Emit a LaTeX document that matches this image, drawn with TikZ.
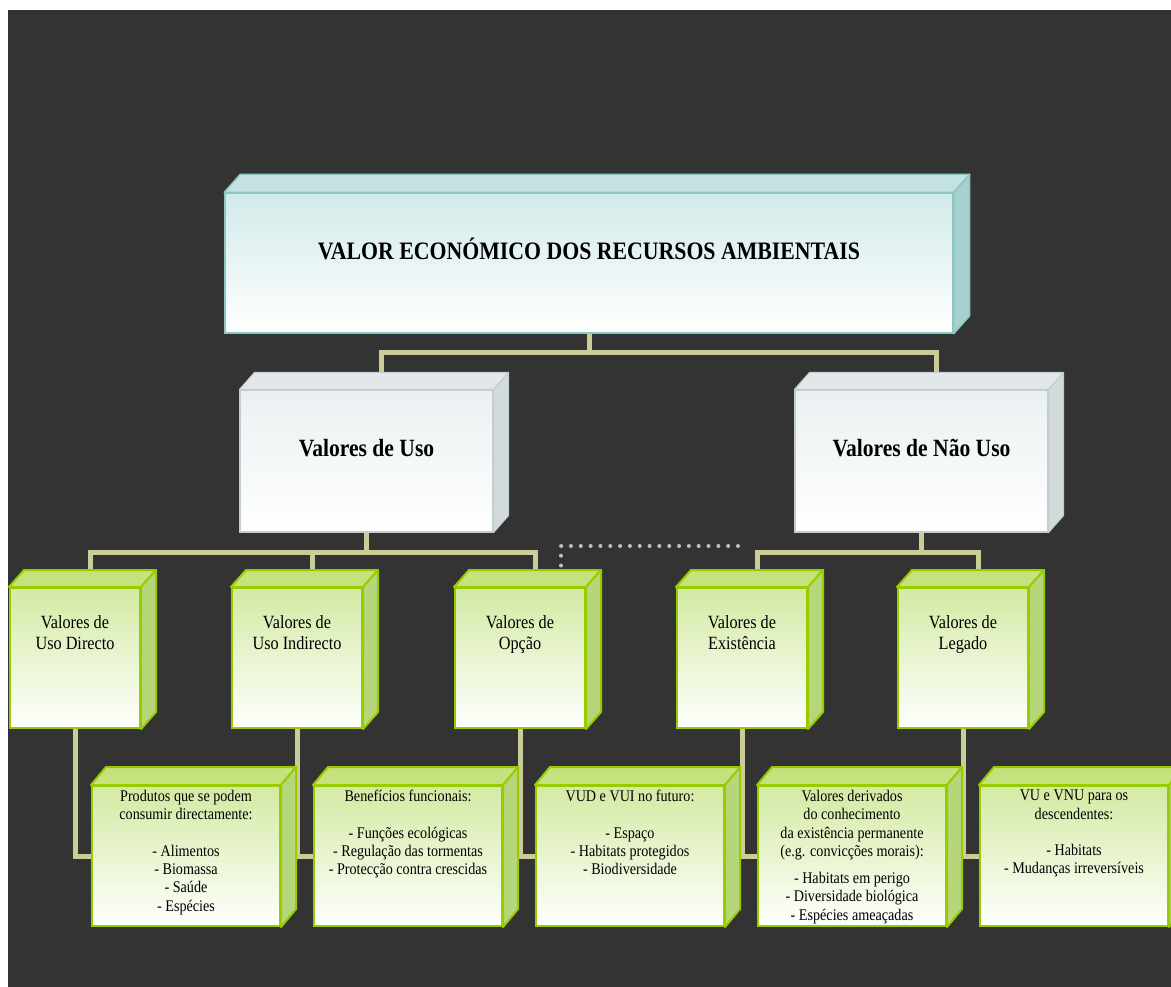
\documentclass[tikz,border=0pt]{standalone}
\usepackage{fontspec}
\setmainfont{Liberation Serif}[FakeStretch=0.87]
\usetikzlibrary{calc}
\pgfdeclarelayer{bg}
\pgfsetlayers{bg,main}
\definecolor{bgc}{HTML}{333333}
\definecolor{beige}{HTML}{CCCC99}
\definecolor{gborder}{HTML}{99CC00}
\definecolor{gtopc}{HTML}{C5E27C}
\definecolor{gsidec}{HTML}{B5D77A}
\definecolor{gfront}{HTML}{D3EAA2}
\definecolor{tborder}{HTML}{8CC7C5}
\definecolor{ttopc}{HTML}{C3E2E1}
\definecolor{tsidec}{HTML}{A6D1CF}
\definecolor{tfront}{HTML}{D2EAEA}
\definecolor{nborder}{HTML}{C3CDD0}
\definecolor{ntopc}{HTML}{E2E8EA}
\definecolor{nsidec}{HTML}{D2DADC}
\definecolor{nfront}{HTML}{EAF0F1}
\definecolor{dotc}{HTML}{BFBFBF}
\newcommand\cubefaces[4]{%
  \path[#4top] (#1.north west) -- ++(#2,#3) -- ($(#1.north east)+(#2,#3)$) -- (#1.north east) -- cycle;
  \path[#4side] (#1.north east) -- ++(#2,#3) -- ($(#1.south east)+(#2,#3)$) -- (#1.south east) -- cycle;
}
\tikzset{
  sz/.style 2 args={minimum width=#1*0.75pt, minimum height=#2*0.75pt},
  conn/.style={draw=beige, line width=3.75pt},
  gfr/.style={rectangle, inner sep=0pt, draw=gborder, line width=1.5pt, top color=gfront, bottom color=white},
  gtop/.style={fill=gtopc, draw=gborder, line width=1.5pt, line join=round},
  gside/.style={fill=gsidec, draw=gborder, line width=1.5pt, line join=round},
  tfr/.style={rectangle, inner sep=0pt, draw=tborder, line width=1.1pt, top color=tfront, bottom color=white},
  ttop/.style={fill=ttopc, draw=tborder, line width=1.1pt, line join=round},
  tside/.style={fill=tsidec, draw=tborder, line width=1.1pt, line join=round},
  nfr/.style={rectangle, inner sep=0pt, draw=nborder, line width=0.8pt, top color=nfront, bottom color=white},
  ntop/.style={fill=ntopc, draw=nborder, line width=0.8pt, line join=round},
  nside/.style={fill=nsidec, draw=nborder, line width=0.8pt, line join=round},
  titletxt/.style={inner sep=0pt, anchor=base, font=\fontsize{18.8}{22}\selectfont\bfseries},
  l2txt/.style={inner sep=0pt, anchor=base, font=\fontsize{18.6}{22}\selectfont\bfseries},
  l3txt/.style={inner sep=0pt, anchor=north, align=center, font=\fontsize{14}{16.3}\selectfont},
  l4txt/.style={inner sep=0pt, anchor=north, align=center, font=\fontsize{12.2}{13.7}\selectfont},
  dots/.style={draw=dotc, line width=3pt, line cap=round, dash pattern=on 0pt off 7.37pt},
}
\begin{document}
\begin{tikzpicture}[x=0.75pt,y=-0.75pt]
\useasboundingbox (0,0) rectangle (1171,987);
% title
\node[tfr, sz={728}{140}] (top) at (589,263) {};
\cubefaces{top}{16}{-18}{t}
\node[titletxt] (toptxt) at (589,260) {VALOR ECONÓMICO DOS RECURSOS AMBIENTAIS};
% level 2
\node[nfr, sz={253}{142}] (uso) at (366.5,461) {};
\cubefaces{uso}{15}{-17}{n}
\node[l2txt] (usotxt) at (366.5,456) {Valores de Uso};
\node[nfr, sz={253}{142}] (nuso) at (921.5,461) {};
\cubefaces{nuso}{15}{-17}{n}
\node[l2txt] (nusotxt) at (921.5,456) {Valores de Não Uso};
% level 3
\node[gfr, sz={130}{140}] (d1) at (75,658) {};
\node[gfr, sz={130}{140}] (d2) at (297,658) {};
\node[gfr, sz={130}{140}] (d3) at (520,658) {};
\node[gfr, sz={130}{140}] (d4) at (742,658) {};
\node[gfr, sz={130}{140}] (d5) at (963,658) {};
\foreach \n in {d1,d2,d3,d4,d5} {\cubefaces{\n}{15}{-17}{g}}
\node[l3txt] (d1t) at (75,615) {Valores de\\Uso Directo};
\node[l3txt] (d2t) at (297,615) {Valores de\\Uso Indirecto};
\node[l3txt] (d3t) at (520,615) {Valores de\\Opção};
\node[l3txt] (d4t) at (742,615) {Valores de\\Existência};
\node[l3txt] (d5t) at (963,615) {Valores de\\Legado};
% level 4
\node[gfr, sz={188}{140}] (e1) at (186,856) {};
\node[gfr, sz={188}{140}] (e2) at (408,856) {};
\node[gfr, sz={188}{140}] (e3) at (630,856) {};
\node[gfr, sz={188}{140}] (e4) at (852,856) {};
\node[gfr, sz={188}{140}] (e5) at (1074,856) {};
\foreach \n in {e1,e2,e3,e4,e5} {\cubefaces{\n}{15}{-18}{g}}
\node[l4txt] (e1t) at (186,790) {Produtos que se podem\\consumir directamente:\\[13.7pt]- Alimentos\\- Biomassa\\- Saúde\\- Espécies};
\node[l4txt] (e2t) at (408,790) {Benefícios funcionais:\\[13.7pt]- Funções ecológicas\\- Regulação das tormentas\\- Protecção contra crescidas};
\node[l4txt] (e3t) at (630,790) {VUD e VUI no futuro:\\[13.7pt]- Espaço\\- Habitats protegidos\\- Biodiversidade};
\node[l4txt] (e4t) at (852,790) {Valores derivados\\do conhecimento\\da existência permanente\\(e.g. convicções morais):\\[6.8pt]- Habitats em perigo\\- Diversidade biológica\\- Espécies ameaçadas};
\node[l4txt] (e5t) at (1074,790) {VU e VNU para os\\descendentes:\\[13.7pt]- Habitats\\- Mudanças irreversíveis};
% background and connectors
\begin{pgfonlayer}{bg}
\fill[white] (0,0) rectangle (1171,987);
\fill[bgc] (8,10) rectangle (1171,987);
\draw[conn] (top.south) -- ++(0,19) coordinate (j0);
\draw[conn] ([xshift=11.25pt]uso.north) |- (j0) -| ([xshift=11.25pt]nuso.north);
\draw[conn] (uso.south) -- ++(0,20) coordinate (j1);
\draw[conn] ([xshift=11.25pt]d1.north) |- (j1) -| ([xshift=11.25pt]d3.north);
\draw[conn] ([xshift=11.25pt]d2.north) |- (j1);
\draw[conn] (nuso.south) -- ++(0,20) coordinate (j2);
\draw[conn] ([xshift=11.25pt]d4.north) |- (j2) -| ([xshift=11.25pt]d5.north);
\draw[conn] (d1.south) |- (e1.west);
\draw[conn] (d2.south) |- (e2.west);
\draw[conn] (d3.south) |- (e3.west);
\draw[conn] (d4.south) |- (e4.west);
\draw[conn] (d5.south) |- (e5.west);
\coordinate (dA) at (738,546);
\coordinate (dB) at (561,546);
\coordinate (dC) at (561,566);
\draw[dots] (dA) -- (dB) -- (dC);
\end{pgfonlayer}
\end{tikzpicture}
\end{document}
